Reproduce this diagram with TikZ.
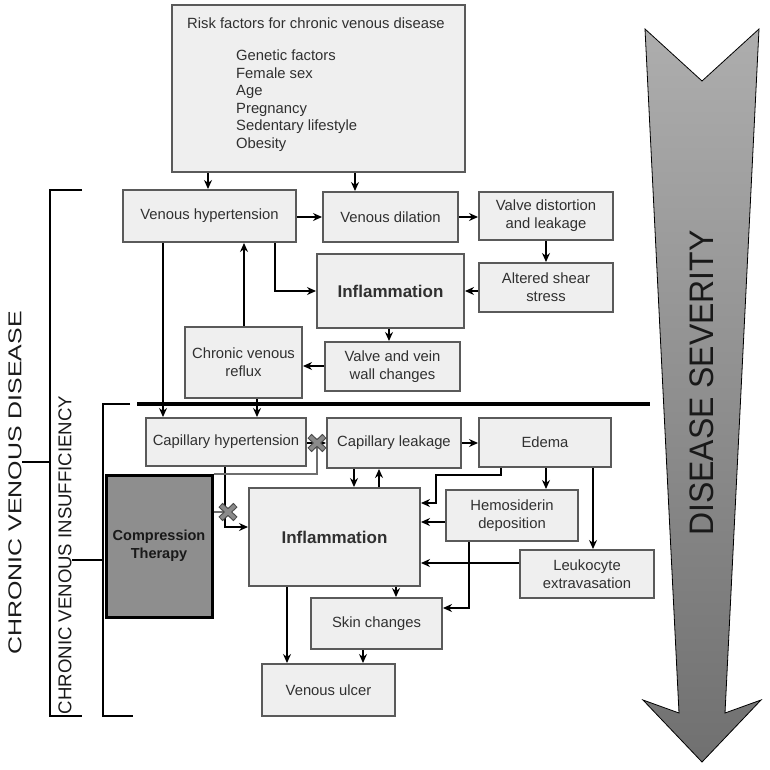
\documentclass[tikz,border=0pt]{standalone}
\usepackage{fontspec}
\setmainfont{Liberation Sans}
\usetikzlibrary{arrows.meta}
\definecolor{boxfill}{HTML}{EFEFEF}
\definecolor{boxline}{HTML}{5A5A5A}
\definecolor{txt}{HTML}{303030}
\definecolor{ctfill}{HTML}{8E8E8E}
\definecolor{xgray}{HTML}{8A8A8A}
\definecolor{xdark}{HTML}{4A4A4A}
\begin{document}
\begin{tikzpicture}[x=1pt,y=-1pt,
  bx/.style={draw=boxline, fill=boxfill, line width=2pt, text=txt, align=center, inner sep=0pt,
     font=\fontsize{14.8}{18}\selectfont},
  bigtx/.style={font=\bfseries\fontsize{17}{20}\selectfont},
  tx/.style={text=txt, inner sep=0pt, font=\fontsize{14.8}{17.6}\selectfont},
  arr/.style={-{Stealth[length=9pt,width=8pt]}, line width=1.3pt, black},
  ctline/.style={line width=2pt, xgray!80!black},
  brk/.style={line width=2.6pt, black}]
\path[use as bounding box] (0,0) rectangle (769,770);

% disease severity arrow
\shade[top color=black!32, bottom color=black!56, draw=black, line width=0.8pt]
  (645,29) -- (702,81) -- (759,29) -- (725,713) -- (761,700) -- (702,762)
  -- (643,700) -- (679,713) -- cycle;
\node[rotate=90, font=\fontsize{34}{34}\selectfont, text=black!90] (sev) at (702,383)
  {\scalebox{0.94}[1]{DISEASE SEVERITY}};

% brackets
\draw[brk] (82,190) -- (50,190) -- (50,716) -- (82,716);
\draw[brk] (50,462) -- (22,462);
\draw[brk] (130,404) -- (103,404) -- (103,716) -- (133,716);
\draw[brk] (103,560) -- (72,560);
\draw[line width=4pt, black] (137,404) -- (650,404);
\node[rotate=90, font=\fontsize{18.6}{20}\selectfont, text=black!90] (cvd) at (15,483)
  {\scalebox{1.34}[1]{CHRONIC VENOUS DISEASE}};
\node[rotate=90, font=\fontsize{18.6}{20}\selectfont, text=black!90] (cvi) at (65,555)
  {CHRONIC VENOUS INSUFFICIENCY};

% risk factors
\node[bx, minimum width=293pt, minimum height=167pt] (risk) at (318.5,88.5) {};
\node[tx, anchor=west] (risktitle) at (187,23) {Risk factors for chronic venous disease};
\node[tx, anchor=north west, align=left] (riskitems) at (236,49.5)
  {Genetic factors\\Female sex\\Age\\Pregnancy\\Sedentary lifestyle\\Obesity};

% upper boxes
\node[bx, minimum width=173pt, minimum height=52pt] (VH) at (209.5,216) {Venous hypertension};
\node[bx, minimum width=135pt, minimum height=50pt] (VD) at (390.5,217) {Venous dilation};
\node[bx, minimum width=134pt, minimum height=48pt] (VDL) at (546,216) {Valve distortion\\and leakage};
\node[bx, minimum width=134pt, minimum height=49pt] (ASS) at (546,287.5) {Altered shear\\stress};
\node[bx, bigtx, minimum width=147pt, minimum height=74pt] (INF1) at (390.5,291) {Inflammation};
\node[bx, minimum width=135pt, minimum height=49pt] (VVW) at (392.5,366.5) {Valve and vein\\wall changes};
\node[bx, minimum width=117pt, minimum height=71pt] (CVR) at (243.5,362.5) {Chronic venous\\reflux};

% lower boxes
\node[bx, minimum width=160pt, minimum height=48pt] (CH) at (226,442) {Capillary hypertension};
\node[bx, minimum width=134pt, minimum height=50pt] (CL) at (394,443) {Capillary leakage};
\node[bx, minimum width=132pt, minimum height=49pt] (ED) at (545,442.5) {Edema};
\node[draw=black, line width=3pt, fill=ctfill, minimum width=106pt, minimum height=142pt,
  align=center, inner sep=0pt, text=black!90, font=\bfseries\fontsize{14.5}{18}\selectfont]
  (CT) at (159,546) {Compression\\Therapy};
\node[bx, bigtx, minimum width=171pt, minimum height=98pt] (INF2) at (334.5,537) {Inflammation};
\node[bx, minimum width=132pt, minimum height=51pt] (HD) at (512,515.5) {Hemosiderin\\deposition};
\node[bx, minimum width=134pt, minimum height=48pt] (LE) at (587,574) {Leukocyte\\extravasation};
\node[bx, minimum width=131pt, minimum height=51pt] (SC) at (376.5,623.5) {Skin changes};
\node[bx, minimum width=133pt, minimum height=52pt] (VU) at (328.5,690) {Venous ulcer};

% upper connectors
\draw[arr] (risk.south -| 208,0) -- (VH.north -| 208,0);
\draw[arr] (risk.south -| 355,0) -- (VD.north -| 355,0);
\draw[arr] (VH.east |- 0,217) -- (VD.west |- 0,217);
\draw[arr] (VD.east |- 0,217) -- (VDL.west |- 0,217);
\draw[arr] (VDL.south) -- (ASS.north);
\draw[arr] (ASS.west |- 0,291) -- (INF1.east |- 0,291);
\draw[arr] (VH.south -| 275,0) |- (INF1.west);
\draw[arr] (INF1.south -| 389,0) -- (VVW.north -| 389,0);
\draw[arr] (VVW.west |- 0,366) -- (CVR.east |- 0,366);
\draw[arr] (CVR.north -| 244,0) -- (VH.south -| 244,0);
\draw[arr] (VH.south -| 163,0) -- (CH.north -| 163,0);
\draw[arr] (CVR.south -| 257,0) -- (CH.north -| 257,0);

% lower connectors
\draw[arr] (CH.east |- 0,443) -- (CL.west |- 0,443);
\draw[arr] (CL.east |- 0,443) -- (ED.west |- 0,443);
\draw[arr] (CH.south -| 225,0) |- (INF2.west |- 0,527);
\draw[arr] (CL.south -| 354,0) -- (INF2.north -| 354,0);
\draw[arr] (INF2.north -| 379,0) -- (CL.south -| 379,0);
\draw[arr] (ED.south -| 501,0) -- (501,475) -- (436,475) |- (INF2.east |- 0,503);
\draw[arr] (ED.south -| 546,0) -- (HD.north -| 546,0);
\draw[arr] (ED.south -| 593,0) -- (LE.north -| 593,0);
\draw[arr] (HD.west |- 0,522) -- (INF2.east |- 0,522);
\draw[arr] (HD.south -| 469,0) |- (SC.east |- 0,608);
\draw[arr] (LE.west |- 0,563) -- (INF2.east |- 0,563);
\draw[arr] (INF2.south -| 396,0) -- (SC.north -| 396,0);
\draw[arr] (INF2.south -| 287,0) -- (VU.north -| 287,0);
\draw[arr] (SC.south -| 363,0) -- (VU.north -| 363,0);

% compression therapy blocks
\coordinate (X1) at (317,443);
\coordinate (X2) at (228,512);
\draw[ctline] (CT.north east) -| (X1);
\draw[ctline] (CT.east |- X2) -- (X2);
\foreach \p in {X1,X2}{
  \draw[line width=6pt, xdark] ([shift={(-7.5,-7)}]\p) -- ([shift={(7.5,7)}]\p)
       ([shift={(-7.5,7)}]\p) -- ([shift={(7.5,-7)}]\p);
  \draw[line width=3.8pt, xgray] ([shift={(-6.8,-6.3)}]\p) -- ([shift={(6.8,6.3)}]\p)
       ([shift={(-6.8,6.3)}]\p) -- ([shift={(6.8,-6.3)}]\p);
}
\end{tikzpicture}
\end{document}
